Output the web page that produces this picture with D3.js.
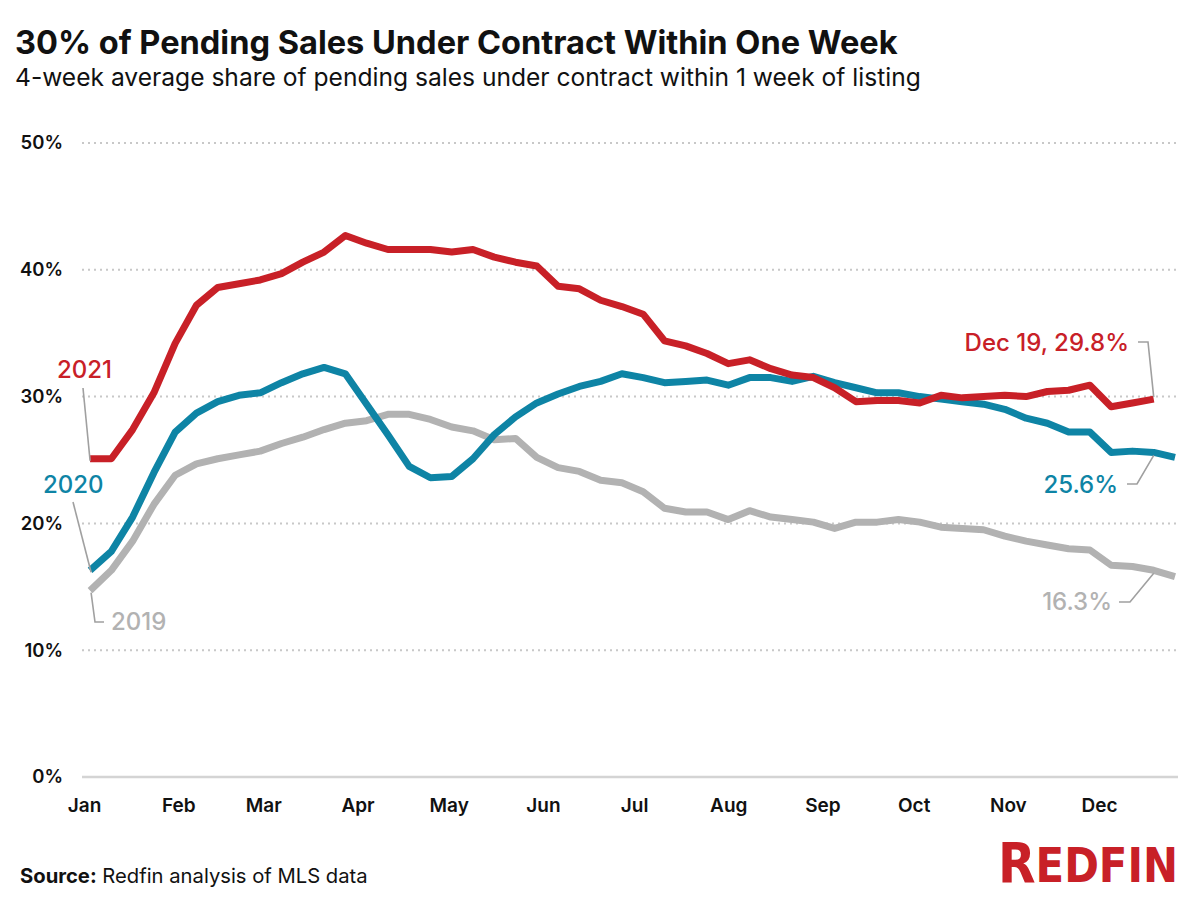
<!DOCTYPE html>
<html><head><meta charset="utf-8">
<script src="https://cdn.jsdelivr.net/npm/d3@7/dist/d3.min.js"></script>
<style>
html,body{margin:0;padding:0;background:#fff;}
svg text{font-family:Inter,"Noto Sans",sans-serif;}
</style></head>
<body><svg id="chart" width="1200" height="900"></svg>
<script>
// ---- data (weekly, 4-week average share, %) ----
const weekStart = new Date(2021, 0, 3);   // first week of the year
const series2019 = [14.7,16.3,18.6,21.5,23.8,24.7,25.1,25.4,25.7,26.3,26.8,27.4,27.9,28.1,28.6,28.6,28.2,27.6,27.3,26.6,26.7,25.2,24.4,24.1,23.4,23.2,22.5,21.2,20.9,20.9,20.3,21.0,20.5,20.3,20.1,19.6,20.1,20.1,20.3,20.1,19.7,19.6,19.5,19.0,18.6,18.3,18.0,17.9,16.7,16.6,16.3,15.8];
const series2020 = [16.3,17.8,20.5,24.0,27.2,28.7,29.6,30.1,30.3,31.1,31.8,32.3,31.8,29.4,27.0,24.5,23.6,23.7,25.1,27.0,28.4,29.5,30.2,30.8,31.2,31.8,31.5,31.1,31.2,31.3,30.9,31.5,31.5,31.2,31.6,31.1,30.7,30.3,30.3,30.0,29.8,29.6,29.4,29.0,28.3,27.9,27.2,27.2,25.6,25.7,25.6,25.2];
const series2021 = [25.1,25.1,27.4,30.3,34.2,37.2,38.6,38.9,39.2,39.7,40.6,41.4,42.7,42.1,41.6,41.6,41.6,41.4,41.6,41.0,40.6,40.3,38.7,38.5,37.6,37.1,36.5,34.4,34.0,33.4,32.6,32.9,32.2,31.7,31.5,30.7,29.6,29.7,29.7,29.5,30.1,29.9,30.0,30.1,30.0,30.4,30.5,30.9,29.2,29.5,29.8];
const yTicks = [0,10,20,30,40,50];
const monthLabels = ["Jan","Feb","Mar","Apr","May","Jun","Jul","Aug","Sep","Oct","Nov","Dec"];
const seriesNames = ["2019","2020","2021"];
const colors = {"2019":"#b2b2b2","2020":"#0e84a5","2021":"#c82027"};

const weeks = d3.range(52).map(i => d3.timeDay.offset(weekStart, 7*i));

const svg = d3.select("#chart");
const x = d3.scaleTime().domain([new Date(2021,0,1), new Date(2021,11,26)]).range([84, 1175]);
const y = d3.scaleLinear().domain([0,50]).range([777, 143]);

// title / subtitle, fitted to widths
function fit(sel, target){
  const w = sel.node().getComputedTextLength();
  const fs = parseFloat(sel.attr("font-size"));
  sel.attr("font-size", fs*target/w);
}
const title = svg.append("text").attr("x",15).attr("y",54).attr("font-size",32).attr("font-weight",700)
  .attr("fill","#111").text("30% of Pending Sales Under Contract Within One Week");
fit(title, 883);
const sub = svg.append("text").attr("x",15).attr("y",86).attr("font-size",24).attr("font-weight",400)
  .attr("fill","#111").text("4-week average share of pending sales under contract within 1 week of listing");
fit(sub, 906);

// gridlines
svg.append("g").selectAll("line").data(yTicks.filter(d=>d>0)).join("line")
  .attr("x1",82).attr("x2",1178).attr("y1",d=>y(d)).attr("y2",d=>y(d))
  .attr("stroke","#c8c8c8").attr("stroke-width",2).attr("stroke-dasharray","2,4");
svg.append("line").attr("x1",82).attr("x2",1178).attr("y1",y(0)).attr("y2",y(0))
  .attr("stroke","#d4d4d4").attr("stroke-width",2.5);

// y axis labels
const yAxis = d3.axisLeft(y).tickValues(yTicks).tickFormat(d=>d+"%").tickSize(0).tickPadding(0);
const gy = svg.append("g").attr("transform","translate(63,0)").call(yAxis);
gy.select(".domain").remove();
gy.selectAll("text").attr("font-size",18.5).attr("font-weight",600).attr("fill","#111")
  .style("font-family","Inter, sans-serif");

// x axis labels
const monthDates = monthLabels.map((m,i)=>new Date(2021,i,1));
const xAxis = d3.axisBottom(x).tickValues(monthDates).tickFormat(d=>monthLabels[d.getMonth()]).tickSize(0).tickPadding(0);
const gx = svg.append("g").attr("transform","translate(0,798)").call(xAxis);
gx.select(".domain").remove();
gx.selectAll("text").attr("font-size",19).attr("font-weight",600).attr("fill","#111")
  .style("font-family","Inter, sans-serif");

// lines
const line = d3.line().x(d=>x(d.date)).y(d=>y(d.v));
const data = {
  "2019": series2019.map((v,i)=>({date:weeks[i], v})),
  "2020": series2020.map((v,i)=>({date:weeks[i], v})),
  "2021": series2021.map((v,i)=>({date:weeks[i], v}))
};
seriesNames.forEach(name=>{
  svg.append("path").datum(data[name]).attr("d",line).attr("fill","none")
    .attr("stroke",colors[name]).attr("stroke-width",7).attr("stroke-linejoin","round").attr("stroke-linecap","butt");
});

// annotations
const lead = "#a0a0a0";
function leader(pts){
  svg.append("path").attr("d", d3.line()(pts)).attr("fill","none").attr("stroke",lead).attr("stroke-width",1.6);
}
const first21 = data["2021"][0], first20 = data["2020"][0], first19 = data["2019"][0];
svg.append("text").attr("x",57).attr("y",378).attr("font-size",24).attr("font-weight",500).attr("fill",colors["2021"]).text("2021");
leader([[83,388],[x(first21.date), y(first21.v)+2]]);
svg.append("text").attr("x",43).attr("y",493).attr("font-size",24).attr("font-weight",500).attr("fill",colors["2020"]).text("2020");
leader([[73,502],[x(first20.date)+1, y(first20.v)+2]]);
svg.append("text").attr("x",111).attr("y",630).attr("font-size",24).attr("font-weight",500).attr("fill",colors["2019"]).text("2019");
leader([[x(first19.date)+1, y(first19.v)+2],[95,622],[104,622]]);

const last21 = data["2021"][50], p20 = data["2020"][50], p19 = data["2019"][50];
svg.append("text").attr("x",1129).attr("y",351).attr("text-anchor","end").attr("font-size",24).attr("font-weight",500)
  .attr("fill",colors["2021"]).text("Dec 19, 29.8%");
leader([[1138,342],[1148,342],[x(last21.date), y(last21.v)-2]]);
svg.append("text").attr("x",1118).attr("y",493).attr("text-anchor","end").attr("font-size",24).attr("font-weight",500)
  .attr("fill",colors["2020"]).text("25.6%");
leader([[1127,484],[1137,484],[x(p20.date), y(p20.v)+3]]);
svg.append("text").attr("x",1112).attr("y",610).attr("text-anchor","end").attr("font-size",24).attr("font-weight",500)
  .attr("fill",colors["2019"]).text("16.3%");
leader([[1119,602],[1130,602],[x(p19.date), y(p19.v)+3]]);

// source
const src = svg.append("text").attr("x",20).attr("y",883).attr("font-size",20).attr("fill","#111");
src.append("tspan").attr("font-weight",700).text("Source:");
src.append("tspan").attr("font-weight",400).text(" Redfin analysis of MLS data");
fit(src, 348);

// logo (single text: large R, smaller EDFIN)
const logoFont = "'Liberation Sans Narrow','DejaVu Sans Condensed',sans-serif";
const logo = svg.append("text").attr("x",998).attr("y",882).attr("font-weight",700)
  .attr("fill","#c82027").attr("textLength",180).attr("lengthAdjust","spacingAndGlyphs")
  .style("font-family",logoFont);
logo.append("tspan").attr("font-size",56).text("R");
logo.append("tspan").attr("font-size",48).text("EDFIN");
</script></body></html>
